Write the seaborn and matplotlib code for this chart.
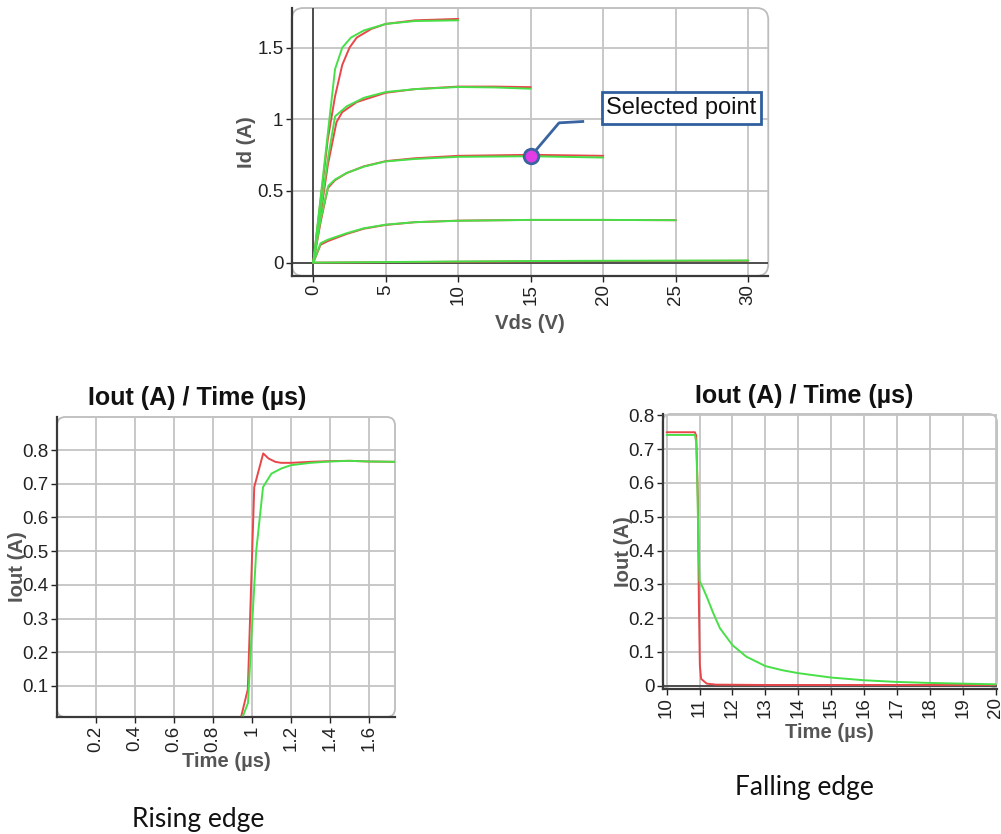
import numpy as np
import pandas as pd
import matplotlib
matplotlib.use("Agg")
import matplotlib.pyplot as plt
from matplotlib.patches import FancyBboxPatch
from matplotlib.ticker import FuncFormatter
import seaborn as sns

# ---- Id / Vds output characteristics (measured = red, model = green) ----
vds_a_meas = [0, 0.5, 1.0, 1.5, 2.0, 2.5, 3.0, 4.0, 5, 7, 10]
id_a_meas = [0, 0.43, 0.86, 1.16, 1.38, 1.50, 1.57, 1.63, 1.665, 1.69, 1.70]
vds_a_sim = [0, 0.5, 1.0, 1.5, 2.0, 2.6, 3.5, 5, 7, 10]
id_a_sim = [0, 0.45, 0.9, 1.35, 1.50, 1.57, 1.62, 1.665, 1.685, 1.69]

vds_b_meas = [0, 0.5, 1.0, 1.6, 2.0, 3.0, 5, 7, 10, 12.5, 15]
id_b_meas = [0, 0.33, 0.68, 0.98, 1.05, 1.12, 1.185, 1.21, 1.228, 1.228, 1.224]
vds_b_sim = [0, 0.5, 1.0, 1.5, 2.3, 3.5, 5, 7, 10, 12.5, 15]
id_b_sim = [0, 0.36, 0.72, 1.02, 1.09, 1.15, 1.19, 1.21, 1.225, 1.222, 1.213]

vds_c_meas = [0, 0.5, 1.0, 1.5, 2.3, 3.5, 5, 7, 10, 15, 20]
id_c_meas = [0, 0.28, 0.52, 0.575, 0.625, 0.672, 0.708, 0.728, 0.745, 0.752, 0.745]
vds_c_sim = [0, 0.5, 1.04, 1.5, 2.3, 3.5, 5, 7, 10, 15, 20]
id_c_sim = [0, 0.3, 0.536, 0.58, 0.625, 0.67, 0.706, 0.723, 0.738, 0.742, 0.733]

vds_d_meas = [0, 0.5, 1.0, 2.3, 3.5, 5, 7, 10, 15, 20, 25]
id_d_meas = [0, 0.125, 0.15, 0.2, 0.237, 0.263, 0.282, 0.293, 0.298, 0.298, 0.296]
vds_d_sim = [0, 0.5, 1.0, 2.3, 3.5, 5, 7, 10, 15, 20, 25]
id_d_sim = [0, 0.135, 0.16, 0.205, 0.24, 0.265, 0.282, 0.292, 0.298, 0.298, 0.296]

vds_e_meas = [0, 5, 10, 15, 20, 25, 30]
id_e_meas = [0, 0.003, 0.006, 0.009, 0.011, 0.012, 0.013]
vds_e_sim = [0, 5, 10, 15, 20, 25, 30]
id_e_sim = [0, 0.004, 0.008, 0.011, 0.013, 0.014, 0.015]

selected_vds = [15]
selected_id = [0.742]
callout_vds = [15, 16.95, 18.68]
callout_id = [0.742, 0.975, 0.985]
callout_text = "Selected point"

vds_ticks = [0, 5, 10, 15, 20, 25, 30]
id_ticks = [0, 0.5, 1, 1.5]

# ---- rising edge ----
t_rise_meas = [0.946, 0.979, 1.012, 1.058, 1.085, 1.12, 1.15, 1.2, 1.3, 1.4, 1.5, 1.6, 1.734]
i_rise_meas = [0.012, 0.09, 0.69, 0.79, 0.775, 0.765, 0.762, 0.762, 0.765, 0.767, 0.768, 0.766, 0.765]
t_rise_sim = [0.955, 0.98, 1.0, 1.022, 1.057, 1.10, 1.15, 1.2, 1.3, 1.4, 1.5, 1.6, 1.734]
i_rise_sim = [0.012, 0.05, 0.27, 0.50, 0.69, 0.73, 0.745, 0.755, 0.762, 0.766, 0.768, 0.766, 0.765]
rise_xticks = [0.2, 0.4, 0.6, 0.8, 1.0, 1.2, 1.4, 1.6]
rise_yticks = [0.1, 0.2, 0.3, 0.4, 0.5, 0.6, 0.7, 0.8]

# ---- falling edge ----
t_fall_meas = [10, 10.86, 10.9, 10.95, 10.98, 11.01, 11.05, 11.22, 11.5, 13, 16, 20]
i_fall_meas = [0.75, 0.75, 0.74, 0.55, 0.25, 0.06, 0.02, 0.006, 0.003, 0.002, 0.002, 0.002]
t_fall_sim = [10, 10.86, 10.9, 10.93, 10.96, 11.0, 11.1, 11.22, 11.42, 11.62, 12, 12.42,
              13, 13.5, 14, 15, 16, 17, 18, 19, 20]
i_fall_sim = [0.742, 0.742, 0.72, 0.62, 0.45, 0.31, 0.29, 0.263, 0.214, 0.17, 0.12, 0.086,
              0.058, 0.046, 0.037, 0.024, 0.016, 0.011, 0.008, 0.006, 0.004]
fall_xticks = [10, 11, 12, 13, 14, 15, 16, 17, 18, 19, 20]
fall_yticks = [0, 0.1, 0.2, 0.3, 0.4, 0.5, 0.6, 0.7, 0.8]

RED = "#e8474a"
GREEN = "#48e048"
PALETTE = {"meas": RED, "sim": GREEN}
GRID = "#c4c4c4"
SPINE = "#3a3a3a"
LABEL = "#555555"


def long_frame(pairs):
    rows = []
    for curve, src, xs, ys in pairs:
        for x, y in zip(xs, ys):
            rows.append({"curve": curve, "src": src, "x": x, "y": y})
    return pd.DataFrame(rows)


def style_axes(ax, xticks, yticks, xlabel, ylabel, xl_y, yl_x):
    fmt = FuncFormatter(lambda v, p: f"{v:g}")
    ax.set_xticks(xticks)
    ax.set_yticks(yticks)
    ax.xaxis.set_major_formatter(fmt)
    ax.yaxis.set_major_formatter(fmt)
    ax.grid(True, color=GRID, linewidth=1.3)
    ax.set_axisbelow(True)
    for s in ("top", "right"):
        ax.spines[s].set_visible(False)
    for s in ("left", "bottom"):
        ax.spines[s].set_color(SPINE)
        ax.spines[s].set_linewidth(1.6)
    ax.tick_params(axis="both", labelsize=13.5, colors="#222222", length=4, width=1,
                   pad=2, left=True, bottom=True)
    ax.tick_params(axis="x", labelrotation=90)
    ax.set_xlabel(xlabel, fontsize=14.6, fontweight="bold", color=LABEL)
    ax.set_ylabel(ylabel, fontsize=14.6, fontweight="bold", color=LABEL)
    ax.xaxis.set_label_coords(0.5, xl_y)
    ax.yaxis.set_label_coords(yl_x, 0.5)
    bb = ax.get_position()
    aspect = (bb.width * 1001) / (bb.height * 834)
    box = FancyBboxPatch((0, 0), 1, 1, boxstyle="round,pad=0,rounding_size=0.025",
                         mutation_aspect=aspect, transform=ax.transAxes, fill=False,
                         edgecolor="#bdbdbd", linewidth=1.3, clip_on=False, zorder=0.5)
    ax.add_patch(box)


sns.set_theme(style="whitegrid")
plt.rcParams["font.family"] = ["Liberation Sans", "DejaVu Sans"]

fig = plt.figure(figsize=(10.01, 8.34), dpi=100)

# ---------------- top chart ----------------
ax1 = fig.add_axes([0.2914, 0.6691, 0.4761, 0.3213])
iv = long_frame([
    ("a", "meas", vds_a_meas, id_a_meas), ("b", "meas", vds_b_meas, id_b_meas),
    ("c", "meas", vds_c_meas, id_c_meas), ("d", "meas", vds_d_meas, id_d_meas),
    ("e", "meas", vds_e_meas, id_e_meas),
    ("a", "sim", vds_a_sim, id_a_sim), ("b", "sim", vds_b_sim, id_b_sim),
    ("c", "sim", vds_c_sim, id_c_sim), ("d", "sim", vds_d_sim, id_d_sim),
    ("e", "sim", vds_e_sim, id_e_sim),
])
ax1.axhline(0, color=SPINE, linewidth=1.2, zorder=1)
ax1.axvline(0, color=SPINE, linewidth=1.2, zorder=1)
sns.lineplot(data=iv, x="x", y="y", hue="src", units="curve", estimator=None,
             palette=PALETTE, hue_order=["meas", "sim"], linewidth=1.4,
             legend=False, ax=ax1, zorder=3)
ax1.plot(callout_vds, callout_id, color="#3a64a0", linewidth=2, zorder=4,
         solid_capstyle="butt")
sns.scatterplot(x=selected_vds, y=selected_id, s=110, color="#e23ce6",
                edgecolor="#3a64a0", linewidth=2, ax=ax1, zorder=5)
ax1.text(25.4, 1.08, callout_text, ha="center", va="center", fontsize=17, color="#111111",
         bbox=dict(boxstyle="square,pad=0.2", facecolor="white", edgecolor="#2f5f9e",
                   linewidth=2), zorder=6)
ax1.set_xlim(-1.49, 31.38)
ax1.set_ylim(-0.093, 1.776)
style_axes(ax1, vds_ticks, id_ticks, "Vds (V)", "Id (A)", -0.142, -0.075)

# ---------------- rising edge ----------------
ax2 = fig.add_axes([0.0569, 0.1403, 0.3377, 0.3597])
rise = long_frame([("r", "meas", t_rise_meas, i_rise_meas),
                   ("r", "sim", t_rise_sim, i_rise_sim)])
sns.lineplot(data=rise, x="x", y="y", hue="src", estimator=None, palette=PALETTE,
             hue_order=["meas", "sim"], linewidth=1.4, legend=False, ax=ax2, zorder=3)
ax2.set_xlim(0, 1.734)
ax2.set_ylim(0.008, 0.898)
style_axes(ax2, rise_xticks, rise_yticks, "Time (µs)", "Iout (A)", -0.117, -0.089)
ax2.text(0.414, 1.063, "Iout (A) / Time (µs)", transform=ax2.transAxes, ha="center",
         va="center", fontsize=18, fontweight="bold", color="#111111")

# ---------------- falling edge ----------------
ax3 = fig.add_axes([0.662, 0.1739, 0.334, 0.3297])
fall = long_frame([("f", "meas", t_fall_meas, i_fall_meas),
                   ("f", "sim", t_fall_sim, i_fall_sim)])
ax3.axhline(0, color=SPINE, linewidth=1.2, zorder=1)
sns.lineplot(data=fall, x="x", y="y", hue="src", estimator=None, palette=PALETTE,
             hue_order=["meas", "sim"], linewidth=1.4, legend=False, ax=ax3, zorder=3)
ax3.set_xlim(9.88, 20.04)
ax3.set_ylim(-0.0098, 0.804)
style_axes(ax3, fall_xticks, fall_yticks, "Time (µs)", "Iout (A)", -0.124, -0.089)
ax3.text(0.423, 1.065, "Iout (A) / Time (µs)", transform=ax3.transAxes, ha="center",
         va="center", fontsize=18, fontweight="bold", color="#111111")

# captions
fig.text(198 / 1001, 1 - 820 / 834, "Rising edge", ha="center", va="center",
         fontsize=19, family=["Lato", "DejaVu Sans"], color="#111111")
fig.text(804 / 1001, 1 - 787 / 834, "Falling edge", ha="center", va="center",
         fontsize=19, family=["Lato", "DejaVu Sans"], color="#111111")

fig.savefig("out.png", dpi=100, facecolor="white")
